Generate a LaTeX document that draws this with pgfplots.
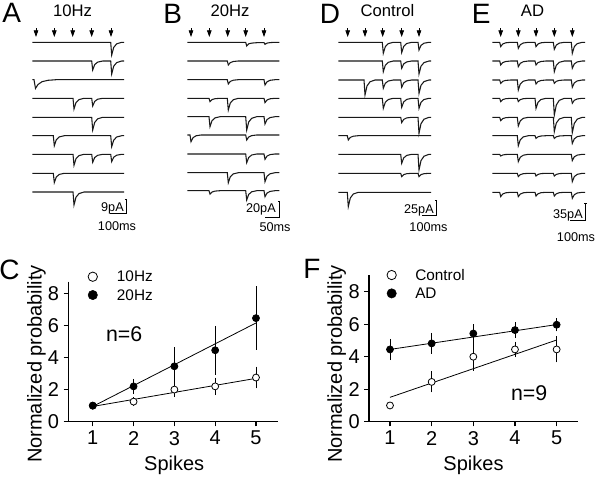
\documentclass[border=0pt]{standalone}
\usepackage{fontspec}
\setmainfont{Liberation Sans}
\usepackage{pgfplots}
\pgfplotsset{compat=1.18}
\usetikzlibrary{arrows.meta}
\begin{document}
\begin{tikzpicture}
\pgfplotsset{
  tr/.style={black!90, line width=0.8pt, y filter/.expression={y+#1}},
}
\tikzset{arr/.style={line width=0.6pt, -{Triangle[width=3.4pt,length=5pt]}},
  sb/.style={line width=0.6pt}}
% ---------- overlay axis in pixel units (traces, labels) ----------
\begin{axis}[at={(0pt,0pt)}, anchor=south west, x=0.75pt, y=0.75pt,
  xmin=0, xmax=600, ymin=0, ymax=479, y dir=reverse, hide axis, clip=false]
% ===== Panel A (10 Hz) =====
\addplot[tr=42.3] coordinates {(32.3,0)(110.7,0)(111.7,12.7)(113.7,5.1)(116.7,1.5)(121.7,0)(124,0)};
\addplot[tr=61] coordinates {(32.3,0)(91.7,0)(92.7,9)(94.7,3.6)(97.7,1.1)(102.7,0)(110.7,0)(111.7,13)(113.7,5.2)(116.7,1.6)(121.7,0)(124,0)};
\addplot[tr=79.7] coordinates {(32.3,0)(34,0)(35.5,8.7)(38,4.8)(42,2)(48,0.6)(56,0)(124,0)};
\addplot[tr=98.3] coordinates {(32.3,0)(73,0)(74,10.7)(76,4.3)(79,1.3)(84,0)(91.7,0)(92.7,7.7)(94.7,3.1)(97.7,0.9)(102.7,0)(124,0)};
\addplot[tr=117.3] coordinates {(32.3,0)(91.7,0)(92.7,12.7)(94.7,5.1)(97.7,1.5)(102.7,0)(124,0)};
\addplot[tr=135.7] coordinates {(32.3,0)(53.3,0)(54.3,10)(56.3,4)(59.3,1.2)(64.3,0)(110.7,0)(111.7,11)(113.7,4.4)(116.7,1.3)(121.7,0)(124,0)};
\addplot[tr=154.3] coordinates {(32.3,0)(73,0)(74,11)(76,4.4)(79,1.3)(84,0)(91.7,0)(92.7,8)(94.7,3.2)(97.7,1)(102.7,0)(110.7,0)(111.7,7.3)(113.7,2.9)(116.7,0.9)(121.7,0)(124,0)};
\addplot[tr=173.3] coordinates {(32.3,0)(53.3,0)(54.3,9.3)(56.3,3.7)(59.3,1.1)(64.3,0)(124,0)};
\addplot[tr=192] coordinates {(32.3,0)(73,0)(74,13)(76,5.2)(79,1.6)(84,0)(124,0)};
% ===== Panel B (20 Hz) =====
\addplot[tr=42.3] coordinates {(187.3,0)(245.7,0)(246.7,3.7)(248.7,1.5)(251.7,0.8)(256.7,0.4)(264,0.3)(265,2)(267,0.8)(270,0.3)(275,0)(279.3,0)};
\addplot[tr=61] coordinates {(187.3,0)(227.3,0)(228.3,4)(230.3,1.6)(233.3,0.5)(238.3,0)(279.3,0)};
\addplot[tr=79.7] coordinates {(187.3,0)(227.3,0)(228.3,4.3)(230.3,1.7)(233.3,0.5)(238.3,0)(264,0)(265,5.3)(267,2.1)(270,0.6)(275,0)(279.3,0)};
\addplot[tr=98.3] coordinates {(187.3,0)(209,0)(210,3.3)(212,1.3)(215,0.4)(220,0)(227.3,0)(228.3,11.7)(230.3,4.7)(233.3,1.4)(238.3,0)(264,0)(265,4.3)(267,1.7)(270,0.5)(275,0)(279.3,0)};
\addplot[tr=116.7] coordinates {(187.3,0)(209,0)(210,10)(212,4)(215,1.2)(220,0)(245.7,0)(246.7,13.3)(248.7,5.3)(251.7,1.6)(256.7,0)(264,0)(265,7.3)(267,2.9)(270,0.9)(275,0)(279.3,0)};
\addplot[tr=135] coordinates {(187.3,0)(190,0)(191,6.7)(193,2.7)(196,0.8)(201,0)(245.7,0)(246.7,5)(248.7,2)(251.7,0.6)(256.7,0)(279.3,0)};
\addplot[tr=154] coordinates {(187.3,0)(245.7,0)(246.7,8.7)(248.7,3.5)(251.7,1)(256.7,0)(264,0)(265,5.3)(267,2.1)(270,0.6)(275,0)(279.3,0)};
\addplot[tr=172.7] coordinates {(187.3,0)(227.3,0)(228.3,10)(230.3,4)(233.3,1.2)(238.3,0)(264,0)(265,9)(267,3.6)(270,1.1)(275,0)(279.3,0)};
\addplot[tr=190.7] coordinates {(187.3,0)(209,0)(210,3.3)(212,1.3)(215,0.4)(220,0)(245.7,0)(246.7,9.3)(248.7,3.7)(251.7,1.1)(256.7,0)(264,0)(265,6)(267,2.4)(270,0.7)(275,0)(279.3,0)};
% ===== Panel D (Control) =====
\addplot[tr=42.3] coordinates {(338.3,0)(382.3,0)(383.3,11)(385.3,4.4)(388.3,1.3)(393.3,0)(400.7,0)(401.7,10.3)(403.7,4.1)(406.7,1.2)(411.7,0)(418,0)(419,7.7)(421,3.1)(424,0.9)(429,0)(431,0)};
\addplot[tr=61] coordinates {(338.3,0)(382.3,0)(383.3,10.7)(385.3,4.3)(388.3,1.3)(393.3,0)(400.7,0)(401.7,7.3)(403.7,2.9)(406.7,0.9)(411.7,0)(418,0)(419,13)(421,5.2)(424,1.6)(429,0)(431,0)};
\addplot[tr=80] coordinates {(338.3,0)(364,0)(365,15)(367,6)(370,1.8)(375,0)(382.3,0)(383.3,8.3)(385.3,3.3)(388.3,1)(393.3,0)(400.7,0)(401.7,7.3)(403.7,2.9)(406.7,0.9)(411.7,0)(418,0)(419,13.3)(421,5.3)(424,1.6)(429,0)(431,0)};
\addplot[tr=98.3] coordinates {(338.3,0)(382.3,0)(383.3,10)(385.3,4)(388.3,1.2)(393.3,0)(400.7,0)(401.7,9)(403.7,3.6)(406.7,1.1)(411.7,0)(418,0)(419,10)(421,4)(424,1.2)(429,0)(431,0)};
\addplot[tr=117.3] coordinates {(338.3,0)(400.7,0)(401.7,5.3)(403.7,2.1)(406.7,0.6)(411.7,0)(418,0)(419,16)(421,6.4)(424,1.9)(429,0)(431,0)};
\addplot[tr=135.7] coordinates {(338.3,0)(347.3,0)(348.3,4.3)(350.3,1.7)(353.3,0.5)(358.3,0)(431,0)};
\addplot[tr=154.3] coordinates {(338.3,0)(400.7,0)(401.7,9)(403.7,3.6)(406.7,1.1)(411.7,0)(418,0)(419,15.7)(421,6.3)(424,1.9)(429,0)(431,0)};
\addplot[tr=173.3] coordinates {(338.3,0)(400.7,0)(401.7,3.3)(403.7,1.3)(406.7,0.4)(411.7,0)(418,0)(419,3.3)(421,1.3)(424,0.4)(429,0)(431,0)};
\addplot[tr=192.3] coordinates {(338.3,0)(347.3,0)(348.3,14.3)(350.3,5.7)(353.3,1.7)(358.3,0)(431,0)};
% ===== Panel E (AD) =====
\addplot[tr=42.3] coordinates {(492.3,0)(499.7,0)(500.7,4.3)(502.7,1.7)(505.7,0.5)(510.7,0)(517.3,0)(518.3,6)(520.3,2.4)(523.3,0.7)(528.3,0)(535,0)(536,4.3)(538,1.7)(541,0.5)(546,0)(553.3,0)(554.3,7)(556.3,2.8)(559.3,0.8)(564.3,0)(571.3,0)(572.3,11)(574.3,4.4)(577.3,1.3)(582.3,0)(585,0)};
\addplot[tr=61] coordinates {(492.3,0)(499.7,0)(500.7,4)(502.7,1.6)(505.7,0.5)(510.7,0)(517.3,0)(518.3,5.7)(520.3,2.3)(523.3,0.7)(528.3,0)(535,0)(536,4)(538,1.6)(541,0.5)(546,0)(553.3,0)(554.3,10.7)(556.3,4.3)(559.3,1.3)(564.3,0)(571.3,0)(572.3,7.3)(574.3,2.9)(577.3,0.9)(582.3,0)(585,0)};
\addplot[tr=80] coordinates {(492.3,0)(499.7,0)(500.7,3.3)(502.7,1.3)(505.7,0.4)(510.7,0)(517.3,0)(518.3,10)(520.3,4)(523.3,1.2)(528.3,0)(535,0)(536,4)(538,1.6)(541,0.5)(546,0)(553.3,0)(554.3,3.3)(556.3,1.3)(559.3,0.4)(564.3,0)(571.3,0)(572.3,7.3)(574.3,2.9)(577.3,0.9)(582.3,0)(585,0)};
\addplot[tr=98.3] coordinates {(492.3,0)(499.7,0)(500.7,3.3)(502.7,1.3)(505.7,0.4)(510.7,0)(517.3,0)(518.3,3.3)(520.3,1.3)(523.3,0.4)(528.3,0)(535,0)(536,10)(538,4)(541,1.2)(546,0)(553.3,0)(554.3,16.7)(556.3,6.7)(559.3,2)(564.3,0)(571.3,0)(572.3,5)(574.3,2)(577.3,0.6)(582.3,0)(585,0)};
\addplot[tr=117.3] coordinates {(492.3,0)(499.7,0)(500.7,3.3)(502.7,1.3)(505.7,0.4)(510.7,0)(517.3,0)(518.3,8.7)(520.3,3.5)(523.3,1)(528.3,0)(553.3,0)(554.3,14.3)(556.3,5.7)(559.3,1.7)(564.3,0)(571.3,0)(572.3,15.3)(574.3,6.1)(577.3,1.8)(582.3,0)(585,0)};
\addplot[tr=135.7] coordinates {(492.3,0)(517.3,0)(518.3,10)(520.3,4)(523.3,1.2)(528.3,0)(535,0)(536,2.7)(538,1.1)(541,0.3)(546,0)(553.3,0)(554.3,2.7)(556.3,1.1)(559.3,0.3)(564.3,0)(571.3,0)(572.3,7.7)(574.3,3.1)(577.3,0.9)(582.3,0)(585,0)};
\addplot[tr=154.3] coordinates {(492.3,0)(499.7,0)(500.7,1.7)(502.7,0.7)(505.7,0.2)(510.7,0)(517.3,0)(518.3,7.3)(520.3,2.9)(523.3,0.9)(528.3,0)(571.3,0)(572.3,6.3)(574.3,2.5)(577.3,0.8)(582.3,0)(585,0)};
\addplot[tr=173.3] coordinates {(492.3,0)(517.3,0)(518.3,3.3)(520.3,1.3)(523.3,0.4)(528.3,0)(535,0)(536,2.7)(538,1.1)(541,0.3)(546,0)(553.3,0)(554.3,2.7)(556.3,1.1)(559.3,0.3)(564.3,0)(571.3,0)(572.3,8.3)(574.3,3.3)(577.3,1)(582.3,0)(585,0)};
\addplot[tr=192.3] coordinates {(492.3,0)(499.7,0)(500.7,4.3)(502.7,1.7)(505.7,0.5)(510.7,0)(517.3,0)(518.3,4.3)(520.3,1.7)(523.3,0.5)(528.3,0)(535,0)(536,3.7)(538,1.5)(541,0.4)(546,0)(553.3,0)(554.3,3.7)(556.3,1.5)(559.3,0.4)(564.3,0)(571.3,0)(572.3,6)(574.3,2.4)(577.3,0.7)(582.3,0)(585,0)};
% ===== stimulus arrows =====
\draw[arr] (axis cs:36,28) -- (axis cs:36,37);
\draw[arr] (axis cs:54.3,28) -- (axis cs:54.3,37);
\draw[arr] (axis cs:72.7,28) -- (axis cs:72.7,37);
\draw[arr] (axis cs:91.7,28) -- (axis cs:91.7,37);
\draw[arr] (axis cs:111,28) -- (axis cs:111,37);
\draw[arr] (axis cs:191,28) -- (axis cs:191,37);
\draw[arr] (axis cs:209.3,28) -- (axis cs:209.3,37);
\draw[arr] (axis cs:227.7,28) -- (axis cs:227.7,37);
\draw[arr] (axis cs:245.7,28) -- (axis cs:245.7,37);
\draw[arr] (axis cs:264,28) -- (axis cs:264,37);
\draw[arr] (axis cs:347.7,28) -- (axis cs:347.7,37);
\draw[arr] (axis cs:365,28) -- (axis cs:365,37);
\draw[arr] (axis cs:382.7,28) -- (axis cs:382.7,37);
\draw[arr] (axis cs:401.7,28) -- (axis cs:401.7,37);
\draw[arr] (axis cs:419,28) -- (axis cs:419,37);
\draw[arr] (axis cs:500.7,28) -- (axis cs:500.7,37);
\draw[arr] (axis cs:518.3,28) -- (axis cs:518.3,37);
\draw[arr] (axis cs:536,28) -- (axis cs:536,37);
\draw[arr] (axis cs:554.3,28) -- (axis cs:554.3,37);
\draw[arr] (axis cs:572.3,28) -- (axis cs:572.3,37);
% ===== scale bars =====
\draw[sb] (axis cs:110,213.5) -- (axis cs:126,213.5) -- (axis cs:126,199);
\draw[sb] (axis cs:124.8,199) -- (axis cs:127.2,199);
\draw[sb] (axis cs:265,217) -- (axis cs:279,217) -- (axis cs:279,201);
\draw[sb] (axis cs:277.8,201) -- (axis cs:280.2,201);
\draw[sb] (axis cs:422,215.5) -- (axis cs:436,215.5) -- (axis cs:436,200);
\draw[sb] (axis cs:434.8,200) -- (axis cs:437.2,200);
\draw[sb] (axis cs:570,220) -- (axis cs:585.5,220) -- (axis cs:585.5,203.5);
\draw[sb] (axis cs:584.3,203.5) -- (axis cs:586.7,203.5);
\begin{scope}[every node/.style={inner sep=0pt, font=\fontsize{9.5}{11}\selectfont}]
\node[anchor=base east] at (axis cs:124,211.5) {9pA};
\node[anchor=base] at (axis cs:117,230) {100ms};
\node[anchor=base east] at (axis cs:276,212) {20pA};
\node[anchor=base] at (axis cs:275,231) {50ms};
\node[anchor=base east] at (axis cs:434,213.5) {25pA};
\node[anchor=base] at (axis cs:428.5,231) {100ms};
\node[anchor=base east] at (axis cs:583,218) {35pA};
\node[anchor=base] at (axis cs:576,241.5) {100ms};
\end{scope}
% ===== panel letters and titles =====
\begin{scope}[every node/.style={inner sep=0pt, font=\fontsize{21}{23}\selectfont}]
\node[anchor=base west] at (axis cs:2,22) {A};
\node[anchor=base west] at (axis cs:163,23.3) {B};
\node[anchor=base west] at (axis cs:319.5,23.3) {D};
\node[anchor=base west] at (axis cs:471.5,23.3) {E};
\node[anchor=base west] at (axis cs:-1,279.3) {C};
\node[anchor=base west] at (axis cs:303,278.3) {F};
\end{scope}
\begin{scope}[every node/.style={inner sep=0pt, font=\fontsize{12.5}{14}\selectfont}]
\node[anchor=base] at (axis cs:72.5,16.7) {10Hz};
\node[anchor=base] at (axis cs:230,16.7) {20Hz};
\node[anchor=base] at (axis cs:387.5,16.7) {Control};
\node[anchor=base] at (axis cs:532.5,16.7) {AD};
\end{scope}
% ===== legends, n, axis labels =====
\begin{scope}[every node/.style={inner sep=0pt, font=\fontsize{11.5}{13}\selectfont}]
\node[anchor=west] at (axis cs:116.7,276.7) {10Hz};
\node[anchor=west] at (axis cs:116.7,295) {20Hz};
\node[anchor=west] at (axis cs:415,275) {Control};
\node[anchor=west] at (axis cs:415,293.3) {AD};
\end{scope}
\begin{scope}[every node/.style={inner sep=0pt, font=\fontsize{16}{18}\selectfont}]
\node[anchor=base] at (axis cs:124.2,341.7) {n=6};
\node[anchor=base] at (axis cs:529.2,400) {n=9};
\end{scope}
\begin{scope}[every node/.style={inner sep=0pt, font=\fontsize{15}{17}\selectfont}]
\node[anchor=base] at (axis cs:174.2,470) {Spikes};
\node[anchor=base] at (axis cs:473.5,470) {Spikes};
\node[rotate=90] at (axis cs:36.5,364) {Normalized probability};
\node[rotate=90] at (axis cs:336.7,364) {Normalized probability};
\end{scope}
\end{axis}
% ---------- panels C and F ----------
\pgfplotsset{
  prob/.style={scale only axis, anchor=south west,
    axis line style={draw=none}, xtick pos=bottom, ytick pos=left,
    xtick={1,2,3,4,5}, ytick={0,2,4,6,8},
    tick align=outside, major tick length=3.5pt, tick style={black, line width=0.8pt},
    ticklabel style={font=\fontsize{15}{17}\selectfont},
    /pgf/number format/assume math mode=true, clip=false,
    execute at end axis={\draw[black, line width=0.8pt] (rel axis cs:0,1) -- (rel axis cs:0,0) -- (rel axis cs:1,0);}},
  fit/.style={black, line width=0.6pt},
  pts/.style={black, only marks, mark=*, mark size=2.6pt,
    error bars/y dir=both, error bars/y explicit,
    error bars/error bar style={line width=0.5pt},
    error bars/error mark options={mark size=1.5pt, line width=0.5pt}},
}
\begin{axis}[prob, at={(51.225pt,42.975pt)}, width=156.975pt, height=105pt,
  xmin=0.4, xmax=5.53, ymin=0, ymax=8.72]
\addplot[fit] coordinates {(1,0.95) (5,2.7)};
\addplot[fit] coordinates {(1,0.95) (5,6.15)};
\addplot[pts, mark options={fill=white, line width=0.6pt}] coordinates {(1,1)+-(0,0) (2,1.25)+-(0,0.15) (3,2.0)+-(0,0.35) (4,2.2)+-(0,0.42) (5,2.75)+-(0,0.55)};
\addplot[pts, mark options={fill=black, line width=0.6pt}] coordinates {(1,1)+-(0,0) (2,2.2)+-(0,0.35) (3,3.45)+-(0,1.05) (4,4.45)+-(0,1.4) (5,6.45)+-(0,1.85)};
\addplot[black, only marks, mark=*, mark size=3.5pt, mark options={fill=white, line width=0.6pt}] coordinates {(1,9.03)};
\addplot[black, only marks, mark=*, mark size=3.5pt, mark options={fill=black}] coordinates {(1,7.89)};
\end{axis}
\begin{axis}[prob, at={(276.75pt,42.975pt)}, width=156.975pt, height=110pt,
  xmin=0.496, xmax=5.52, ymin=0, ymax=9.03]
\addplot[fit] coordinates {(1,1.5) (5,5.03)};
\addplot[fit] coordinates {(1,4.45) (5,5.98)};
\addplot[pts, mark options={fill=white, line width=0.6pt}] coordinates {(1,1.0)+-(0,0) (2,2.45)+-(0,0.52) (3,4.0)+-(0,0.75) (4,4.45)+-(0,0.35) (5,4.45)+-(0,0.68)};
\addplot[pts, mark options={fill=black, line width=0.6pt}] coordinates {(1,4.45)+-(0,0.53) (2,4.82)+-(0,0.52) (3,5.43)+-(0,0.45) (4,5.64)+-(0,0.37) (5,5.97)+-(0,0.28)};
\addplot[black, only marks, mark=*, mark size=3.5pt, mark options={fill=white, line width=0.6pt}] coordinates {(1.04,9.03)};
\addplot[black, only marks, mark=*, mark size=3.5pt, mark options={fill=black}] coordinates {(1.04,7.9)};
\end{axis}
\pgfresetboundingbox
\path[use as bounding box] (0pt,0pt) rectangle (450pt,359.25pt);
\end{tikzpicture}
\end{document}
